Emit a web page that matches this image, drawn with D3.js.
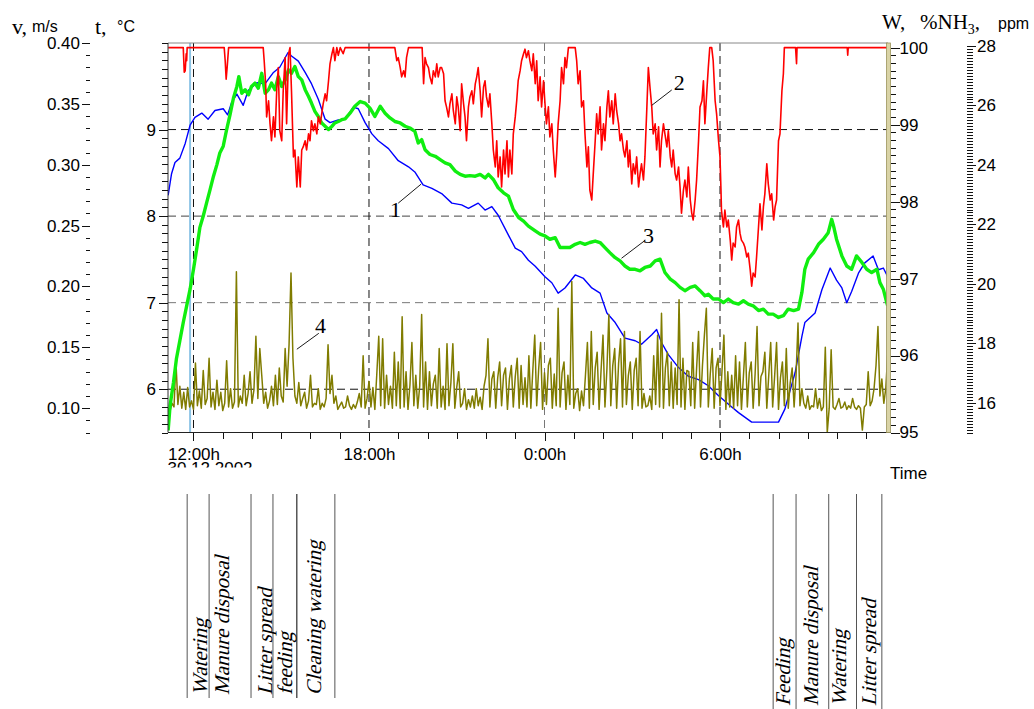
<!DOCTYPE html>
<html lang="en">
<head>
<meta charset="utf-8">
<title>Microclimate 30.12.2002</title>
<script src="https://cdn.jsdelivr.net/npm/d3@7/dist/d3.min.js"></script>
<style>
  body { margin: 0; background: #fff; }
  svg text { fill: #000; }
  .sans { font-family: "Liberation Sans", Arial, sans-serif; }
  .axis path { display: none; }
  .axis line { stroke: #111; shape-rendering: crispEdges; }
  .axis text { font-family: "Liberation Sans", Arial, sans-serif; font-size: 17px; }
  .serif { font-family: "Liberation Serif", "Times New Roman", serif; }
  .event { font-family: "Liberation Serif", "Times New Roman", serif; font-size: 21px; }
  .series { fill: none; stroke-linejoin: round; }
</style>
</head>
<body>
<svg id="chart" width="1034" height="709"></svg>
<script>
// time = minutes after 12:00 on 30.12.2002
var timeFrom = -52.3, timeTo = 1424.6;

// curve 1: air temperature, degC
var temperature = [[-52,8.24],[-45,8.49],[-38,8.62],[-28,8.67],[-17,8.84],[-7,9.05],[3,9.14],[17,9.19],[30,9.12],[44,9.22],[61,9.24],[70,9.17],[78,9.31],[89,9.41],[102,9.28],[112,9.45],[130,9.54],[147,9.53],[164,9.66],[177,9.72],[194,9.89],[201,9.85],[215,9.79],[229,9.66],[242,9.53],[256,9.35],[270,9.12],[280,9.08],[297,9.11],[311,9.12],[328,9.26],[338,9.24],[352,9.08],[366,8.95],[379,8.87],[400,8.78],[420,8.64],[441,8.57],[454,8.51],[471,8.36],[489,8.32],[509,8.26],[530,8.15],[550,8.13],[564,8.09],[584,8.15],[598,8.07],[612,8.11],[625,8.01],[646,7.78],[660,7.63],[673,7.59],[687,7.49],[701,7.42],[721,7.30],[735,7.23],[748,7.11],[762,7.17],[783,7.32],[800,7.28],[817,7.17],[834,7.11],[848,6.88],[865,6.77],[885,6.59],[906,6.56],[919,6.52],[940,6.63],[950,6.69],[960,6.54],[974,6.40],[995,6.25],[1015,6.15],[1036,6.11],[1056,6.04],[1076,5.93],[1101,5.81],[1118,5.73],[1145,5.62],[1172,5.62],[1200,5.62],[1213,5.77],[1234,6.19],[1248,6.61],[1254,6.77],[1275,6.88],[1289,7.15],[1306,7.40],[1319,7.26],[1330,7.17],[1340,7.00],[1350,7.13],[1364,7.34],[1377,7.46],[1394,7.54],[1405,7.38],[1415,7.40],[1424,7.30]];

// curve 2: relative humidity W, %
var humidity = [[-52,100],[-21,100],[-19,99.68],[-17,99.70],[-15,99.92],[-14,99.83],[-13,100],[63,100],[65,99.83],[67,99.59],[69,99.74],[72,100],[143,100],[145,99.83],[148,99.53],[150,99.10],[154,99.31],[157,99.01],[160,98.79],[164,99.10],[167,98.84],[171,99.49],[174,99.74],[177,98.92],[181,98.79],[184,99.44],[188,99.87],[191,99.01],[195,99.92],[198,100],[201,99.44],[205,98.58],[208,98.67],[212,98.19],[215,98.58],[219,98.19],[222,98.67],[225,98.71],[229,98.79],[232,98.67],[236,98.88],[239,98.79],[242,99.05],[246,98.92],[249,99.01],[253,98.88],[256,99.10],[260,99.01],[263,99.14],[266,99.27],[270,99.40],[273,99.31],[277,99.57],[280,99.79],[284,99.92],[287,100],[290,99.83],[294,100],[297,99.90],[301,100],[307,99.92],[311,100],[413,100],[417,99.83],[420,99.87],[424,99.74],[427,99.62],[431,99.70],[434,99.62],[437,99.87],[441,100],[469,100],[472,99.53],[475,99.87],[478,99.79],[482,99.74],[485,99.62],[489,99.53],[492,99.70],[496,99.62],[499,99.79],[502,99.62],[506,99.74],[509,99.74],[513,99.66],[516,99.31],[519,99.23],[523,99.10],[526,99.27],[530,99.40],[533,99.18],[537,99.01],[540,99.36],[543,99.23],[547,98.92],[550,99.53],[554,99.27],[557,99.10],[560,98.79],[564,99.23],[567,99.36],[571,99.44],[574,99.27],[578,99.53],[581,99.62],[584,99.74],[588,99.44],[591,99.10],[595,99.49],[598,99.57],[601,99.36],[605,99.23],[608,99.40],[612,99.01],[615,98.67],[619,98.45],[622,98.79],[625,98.32],[629,98.58],[632,98.19],[636,98.67],[639,98.36],[643,98.79],[646,98.32],[649,98.67],[653,98.36],[656,98.88],[660,99.10],[663,99.31],[666,99.57],[670,99.70],[673,99.83],[677,99.92],[680,99.98],[683,99.87],[687,99.96],[690,99.83],[694,99.70],[697,99.92],[701,99.53],[704,99.83],[707,99.31],[711,99.62],[714,99.23],[718,99.57],[721,99.27],[724,99.01],[728,99.23],[731,98.84],[735,99.01],[738,98.67],[742,98.32],[745,98.62],[748,99.01],[752,99.31],[755,99.74],[759,99.53],[762,99.87],[765,99.74],[769,100],[783,100],[786,99.83],[789,99.53],[793,99.70],[796,99.23],[800,99.31],[803,98.88],[807,98.45],[810,98.71],[813,98.15],[817,98.02],[820,98.36],[824,98.79],[827,99.14],[830,98.88],[834,99.23],[837,98.67],[841,99.01],[844,98.79],[848,99.23],[851,99.44],[854,99.10],[858,99.31],[861,99.01],[865,99.40],[868,99.18],[872,99.01],[875,98.79],[878,98.88],[882,98.67],[885,98.58],[889,98.79],[892,98.45],[895,98.67],[899,98.23],[902,98.49],[906,98.36],[909,98.58],[913,98.19],[916,98.36],[919,98.49],[923,98.28],[926,98.58],[930,99.23],[933,99.74],[937,99.44],[940,99.23],[943,98.88],[947,99.01],[950,98.67],[954,98.97],[957,98.45],[960,98.79],[964,99.01],[967,98.88],[971,98.71],[974,98.92],[978,98.58],[981,98.45],[984,98.67],[988,98.36],[991,98.28],[995,98.45],[998,98.19],[1001,97.85],[1005,98.15],[1008,98.28],[1012,98.06],[1015,98.45],[1019,98.02],[1022,97.85],[1025,97.76],[1029,98.02],[1032,98.28],[1036,98.79],[1039,99.23],[1043,99.31],[1046,99.57],[1049,99.01],[1053,99.44],[1056,99.74],[1059,100],[1063,100],[1066,99.83],[1070,99.31],[1073,99.14],[1077,98.79],[1080,98.58],[1082,98.15],[1083,97.89],[1087,97.67],[1090,97.89],[1094,97.67],[1097,97.76],[1101,97.50],[1104,97.24],[1107,97.46],[1111,97.41],[1114,97.67],[1118,97.76],[1121,97.59],[1124,97.50],[1128,97.46],[1131,97.41],[1135,97.28],[1138,97.33],[1142,97.11],[1145,96.90],[1148,97.07],[1152,97.02],[1155,97.28],[1159,97.67],[1162,97.97],[1166,97.63],[1169,97.93],[1172,98.10],[1176,98.49],[1179,98.23],[1183,98.02],[1186,98.10],[1190,97.76],[1193,97.93],[1196,98.02],[1200,98.79],[1203,98.88],[1207,99.44],[1210,99.66],[1212,100],[1235,100],[1237,99.79],[1238,100],[1341,100],[1342,99.90],[1343,100],[1424,100]];

// curve 3: ammonia, ppm
var ammonia = [[-52,15.07],[-48,15.91],[-41,16.69],[-35,17.48],[-28,18.09],[-21,18.70],[-14,19.26],[-7,19.82],[0,20.49],[7,21.22],[13,21.89],[20,22.28],[27,22.73],[34,23.17],[41,23.62],[48,24.01],[54,24.40],[61,24.63],[68,25.19],[75,25.69],[82,26.25],[89,26.64],[93,26.97],[99,26.41],[106,26.53],[113,26.36],[119,26.64],[126,26.75],[133,26.58],[140,27.08],[147,26.41],[154,26.53],[160,26.75],[167,26.53],[174,26.97],[181,26.64],[188,26.86],[195,27.20],[201,27.08],[208,27.31],[215,26.97],[222,26.86],[229,26.53],[236,26.30],[242,26.08],[249,25.80],[256,25.63],[263,25.41],[270,25.30],[277,25.19],[284,25.30],[290,25.41],[297,25.46],[304,25.52],[311,25.55],[321,25.74],[331,25.97],[342,26.13],[352,26.08],[362,25.91],[372,25.63],[383,25.97],[393,25.74],[403,25.58],[413,25.46],[424,25.41],[434,25.30],[444,25.24],[454,25.13],[461,24.74],[468,24.85],[475,24.51],[485,24.35],[496,24.29],[506,24.18],[516,24.07],[526,24.01],[537,23.79],[547,23.68],[557,23.62],[567,23.64],[578,23.62],[588,23.68],[598,23.56],[605,23.68],[615,23.51],[625,23.23],[636,23.06],[646,22.95],[656,22.50],[667,22.23],[677,22.11],[687,21.94],[701,21.78],[711,21.67],[721,21.61],[731,21.50],[742,21.55],[752,21.22],[762,21.22],[772,21.22],[783,21.33],[793,21.39],[803,21.33],[813,21.39],[824,21.44],[834,21.39],[844,21.22],[854,21.05],[865,20.88],[875,20.77],[885,20.60],[895,20.49],[906,20.49],[916,20.44],[926,20.55],[937,20.60],[947,20.77],[957,20.83],[967,20.38],[978,20.16],[988,20.04],[998,19.88],[1008,19.77],[1019,19.88],[1029,19.93],[1039,19.77],[1049,19.60],[1056,19.65],[1066,19.49],[1077,19.49],[1087,19.37],[1097,19.49],[1107,19.37],[1118,19.32],[1128,19.43],[1138,19.32],[1148,19.26],[1159,19.10],[1169,19.15],[1179,18.98],[1189,18.98],[1200,18.87],[1210,18.93],[1220,19.15],[1231,19.10],[1241,19.15],[1248,19.71],[1254,20.49],[1261,20.83],[1272,21.05],[1282,21.33],[1292,21.50],[1302,21.72],[1309,22.17],[1313,21.94],[1319,21.50],[1330,20.94],[1340,20.60],[1350,20.49],[1360,20.94],[1371,20.72],[1381,20.49],[1391,20.38],[1402,20.49],[1408,20.04],[1415,19.82],[1422,19.37],[1424,19.26]];

// curve 4: air speed v, m/s, one reading every 4 minutes from -52
var speedStart = -52, speedStep = 4;
var airSpeed = [
  .100,.098,.104,.101,.138,.103,.118,.100,.113,.099,.117,.101,.106,.099,.137,
  .102,.114,.100,.131,.103,.108,.141,.101,.113,.099,.123,.102,.113,.098,.104,
  .139,.101,.116,.100,.105,.212,.101,.110,.104,.127,.102,.112,.130,.104,.115,
  .159,.108,.149,.127,.104,.113,.100,.106,.118,.102,.127,.103,.133,.110,.105,
  .149,.118,.152,.211,.141,.110,.104,.121,.102,.108,.113,.100,.106,.127,.101,
  .104,.103,.116,.099,.104,.101,.108,.152,.112,.127,.104,.110,.099,.102,.105,
  .100,.101,.110,
  .102,.099,.103,.100,.105,.112,.101,.143,.100,.108,.122,.101,.117,.099,.128,
  .159,.102,.157,.100,.127,.103,.118,.100,.146,.102,.138,.100,.175,.101,.130,
  .099,.119,.154,.102,.127,.100,.118,.177,.101,.138,.099,.130,.102,.120,.127,
  .100,.149,.101,.118,.099,.153,.102,.121,.153,.100,.117,.130,.101,.104,.116,
  .099,.107,.101,.110,.100,.116,.102,.109,.099,.118,.127,.157,.101,.124,.130,
  .100,.125,.138,.102,.127,.133,.099,.124,.135,.101,.126,.141,.100,.135,.103,
  .125,
  .101,.143,.100,.131,.160,.102,.132,.154,.099,.129,.103,.135,.141,.100,.128,
  .102,.182,.101,.129,.138,.099,.127,.103,.204,.100,.112,.116,.098,.114,.102,
  .127,.154,.100,.163,.103,.133,.146,.099,.131,.160,.101,.132,.177,.102,.135,
  .149,.100,.137,.157,.101,.163,.103,.127,.138,.099,.131,.141,.102,.163,.100,
  .112,.101,.102,.110,.099,.143,.103,.160,.101,.178,.100,.133,.146,.102,.138,
  .100,.133,.103,.189,.101,.141,.099,.131,.130,.102,.154,.100,.133,.163,.101,
  .135,.160,.182,
  .101,.128,.149,.100,.133,.141,.102,.130,.160,.099,.130,.101,.127,.100,.143,
  .102,.138,.099,.126,.154,.101,.129,.138,.100,.128,.167,.102,.126,.130,.146,
  .100,.127,.154,.101,.126,.154,.099,.125,.138,.102,.149,.100,.121,.133,.101,
  .127,.170,.102,.116,.104,.100,.110,.099,.102,.101,.116,.100,.108,.098,.101,
  .150,.080,.100,.148,.101,.099,.103,.108,.100,.101,.105,.099,.102,.100,.108,
  .101,.099,.102,.100,.082,.101,.103,.130,.102,.106,.116,.135,.167,.110,.124,
  .104,.116,.144
];

var hourTicks = [0, 360, 720, 1080];
var hourLabels = ["12:00h", "18:00h", "0:00h", "6:00h"];
var tempTicks = [6, 7, 8, 9];
var speedTicks = [0.10, 0.15, 0.20, 0.25, 0.30, 0.35, 0.40];
var humTicks = [95, 96, 97, 98, 99, 100];
var nh3Ticks = [16, 18, 20, 22, 24, 26, 28];

// farm operations written under the chart
var eventTimes = [-13, 32, 118, 163, 212, 290, 1189, 1236, 1303, 1360, 1412];
var eventNames = ["Watering", "Manure disposal", "Litter spread", "feeding", "Cleaning watering",
                  "Feeding", "Manure disposal", "Watering", "Litter spread"];
var eventNameTimes = [28, 72, 162, 203, 261, 1224, 1280, 1338, 1399];
var markerTime = -7;

var svg = d3.select("#chart");
var pL = 168, pR = 888, pT = 43, pB = 432.5;

var x = d3.scaleLinear().domain([timeFrom, timeTo]).range([pL, pR]);
var yT = d3.scaleLinear().domain([5.5, 10]).range([pB, pT]);
var yV = d3.scaleLinear().domain([0.08, 0.40]).range([pB, pT]);
var yW = d3.scaleLinear().domain([95, 100.06]).range([pB, pT]);
var yN = d3.scaleLinear().domain([15, 28.1]).range([pB, pT]);

var defs = svg.append("defs");
defs.append("clipPath").attr("id", "plotclip")
  .append("rect").attr("x", pL).attr("y", pT).attr("width", pR - pL).attr("height", pB - pT);
defs.append("clipPath").attr("id", "dateclip")
  .append("rect").attr("x", 100).attr("y", 440).attr("width", 300).attr("height", 27.5);

// grid
var grid = svg.append("g");
var hColors = ["#111", "#444", "#777", "#111"];
grid.selectAll(".hg").data(tempTicks.slice().reverse()).enter().append("line")
  .attr("x1", pL).attr("x2", pR)
  .attr("y1", d => yT(d)).attr("y2", d => yT(d))
  .attr("stroke", (d, i) => hColors[i]).attr("stroke-dasharray", "8,5");
grid.selectAll(".vg").data(hourTicks).enter().append("line")
  .attr("x1", d => x(d)).attr("x2", d => x(d))
  .attr("y1", pT).attr("y2", pB)
  .attr("stroke", (d, i) => i == 2 ? "#777" : "#111").attr("stroke-dasharray", "8,5");

svg.append("line")
  .attr("x1", x(markerTime)).attr("x2", x(markerTime)).attr("y1", pT).attr("y2", pB)
  .attr("stroke", "#8ec5e6").attr("stroke-width", 2);

// curves
var series = svg.append("g").attr("clip-path", "url(#plotclip)");
function curve(data, ys) {
  return d3.line().x(d => x(d[0])).y(d => ys(d[1]))(data);
}
series.append("path").attr("class", "series").attr("d", curve(temperature, yT))
  .attr("stroke", "#0000ff").attr("stroke-width", 1.4);
series.append("path").attr("class", "series")
  .attr("d", d3.line().x((d, i) => x(speedStart + i * speedStep)).y(d => yV(d))(airSpeed))
  .attr("stroke", "#807c00").attr("stroke-width", 1.5);
series.append("path").attr("class", "series").attr("d", curve(ammonia, yN))
  .attr("stroke", "#10ee10").attr("stroke-width", 3.4);
series.append("path").attr("class", "series").attr("d", curve(humidity, yW))
  .attr("stroke", "#ff0000").attr("stroke-width", 1.6);

// frame
svg.append("line").attr("x1", pL).attr("x2", pR).attr("y1", pT).attr("y2", pT).attr("stroke", "#888");
svg.append("line").attr("x1", pL).attr("x2", pL).attr("y1", pT).attr("y2", pB).attr("stroke", "#333");
svg.append("line").attr("x1", pL).attr("x2", pR + 3).attr("y1", pB).attr("y2", pB).attr("stroke", "#222");
svg.append("rect").attr("x", pR - 1.5).attr("y", pT).attr("width", 4).attr("height", pB - pT)
  .attr("fill", "#d9d3a6").attr("stroke", "#9c955c").attr("stroke-width", 0.8);

// axes
function axisPair(gen, scale, pos, major, minor, size, fmt, pad) {
  var g = svg.append("g").attr("class", "axis").attr("transform", pos);
  g.append("g").call(gen(scale).tickValues(minor).tickSize(size[1]).tickFormat(""));
  g.append("g").call(gen(scale).tickValues(major).tickSize(size[0]).tickPadding(pad).tickFormat(fmt));
  g.selectAll("g").attr("font-size", null).attr("font-family", null);
  return g;
}
axisPair(d3.axisLeft, yV, "translate(90,0)", speedTicks, d3.range(8, 41).map(d => d / 100), [8, 4], d3.format(".2f"), 2);
axisPair(d3.axisLeft, yT, "translate(" + pL + ",0)", tempTicks, d3.range(55, 101).map(d => d / 10), [9, 6], d3.format("d"), 3);
axisPair(d3.axisRight, yW, "translate(" + (pR + 2.5) + ",0)", humTicks, d3.range(950, 1001).map(d => d / 10), [9, 5], d3.format("d"), 0);
axisPair(d3.axisRight, yN, "translate(967,0)", nh3Ticks, d3.range(150, 281).map(d => d / 10), [9, 6], d3.format("d"), 1);
axisPair(d3.axisBottom, x, "translate(0," + pB + ")", hourTicks, d3.range(0, 1424, 60), [8, 6],
  (d, i) => hourLabels[i], 7.5);

svg.append("text").attr("class", "sans").attr("x", x(0) - 26).attr("y", 474).attr("font-size", 17)
  .attr("clip-path", "url(#dateclip)").text("30.12.2002");
svg.append("text").attr("class", "sans").attr("x", 890).attr("y", 479).attr("font-size", 17).text("Time");

// axis titles
svg.append("text").attr("class", "serif").attr("x", 12).attr("y", 34).attr("font-size", 22).text("v,");
svg.append("text").attr("class", "sans").attr("x", 32).attr("y", 32).attr("font-size", 16).text("m/s");
svg.append("text").attr("class", "serif").attr("x", 95).attr("y", 34).attr("font-size", 22).text("t,");
svg.append("text").attr("class", "sans").attr("x", 117).attr("y", 32).attr("font-size", 16).text("°C");
svg.append("text").attr("class", "serif").attr("x", 882).attr("y", 29).attr("font-size", 21).text("W,");
var nh = svg.append("text").attr("class", "serif").attr("x", 920).attr("y", 29).attr("font-size", 21);
nh.append("tspan").text("%NH");
nh.append("tspan").attr("font-size", 14).attr("dy", 5).text("3");
nh.append("tspan").attr("dy", -5).text(",");
svg.append("text").attr("class", "sans").attr("x", 998).attr("y", 29).attr("font-size", 16).text("ppm");

// curve numbers
var callouts = [
  {n: "1", y: yT, at: [403, 7.99], from: [420, 8.15], to: [467, 8.37]},
  {n: "2", y: yW, at: [985, 99.45], from: [981, 99.45], to: [940, 99.25]},
  {n: "3", y: yN, at: [922, 21.37], from: [927, 21.47], to: [878, 20.86]},
  {n: "4", y: yV, at: [249, 0.1617], from: [257, 0.1615], to: [212, 0.1484]}
];
callouts.forEach(function(c) {
  svg.append("line").attr("x1", x(c.from[0])).attr("y1", c.y(c.from[1]))
    .attr("x2", x(c.to[0])).attr("y2", c.y(c.to[1])).attr("stroke", "#000").attr("stroke-width", 0.9);
  svg.append("text").attr("class", "serif").attr("x", x(c.at[0])).attr("y", c.y(c.at[1]))
    .attr("font-size", 22).text(c.n);
});

// operations
eventTimes.forEach(function(t, i) {
  var late = t > 600;
  svg.append("line").attr("x1", x(t)).attr("x2", x(t))
    .attr("y1", 494).attr("y2", late ? 709 : 698)
    .attr("stroke", i == 4 ? "#000" : "#555").attr("stroke-width", 1);
});
// serif labels, slanted by a skew so they read like the italic originals
eventNames.forEach(function(name, i) {
  var t = eventNameTimes[i];
  var yb = t > 600 ? 706 : 695;
  svg.append("text").attr("class", "event")
    .attr("transform", "translate(" + x(t) + "," + yb + ") rotate(-90) skewX(-14)")
    .text(name);
});
</script>
</body>
</html>
